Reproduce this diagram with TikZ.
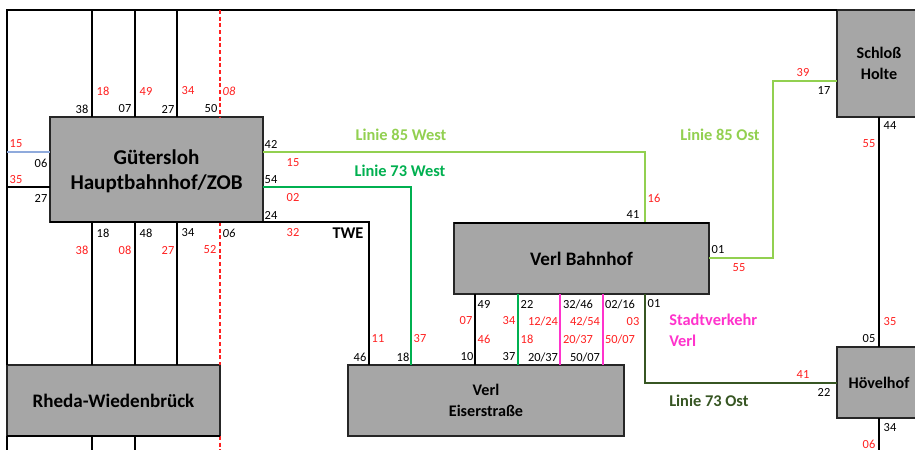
\documentclass[tikz,border=0pt]{standalone}
\usepackage{fontspec}
\usepackage{xcolor}
\setmainfont{Carlito}
\usetikzlibrary{positioning}

\definecolor{stationgrey}{HTML}{A6A6A6}
\definecolor{edgegrey}{HTML}{262626}
\definecolor{numred}{HTML}{FF2020}
\definecolor{lightgreen}{HTML}{92D050}
\definecolor{midgreen}{HTML}{00B050}
\definecolor{darkgreen}{HTML}{375623}
\definecolor{pinkline}{HTML}{FF33CC}
\definecolor{paleblue}{HTML}{8FAADC}

\begin{document}
\begin{tikzpicture}[
    x=0.75pt, y=-0.75pt,
    station/.style={draw=edgegrey, fill=stationgrey, line width=1pt, inner sep=0pt, outer sep=0pt,
                anchor=north west, align=center, text depth=0pt, font=\fontsize{12.1}{15.75}\selectfont\bfseries},
    bigstation/.style={station, font=\fontsize{14.3}{18.75}\selectfont\bfseries},
    num/.style={inner sep=0pt, font=\fontsize{9.3}{10}\selectfont},
    rednum/.style={num, text=numred},
    linename/.style={inner sep=0pt, align=left, font=\fontsize{12.3}{15.75}\selectfont\bfseries},
    plain/.style={draw=black, line width=0.9pt},
    heavy/.style={draw=black, line width=1.5pt},
    redline/.style={draw=numred, line width=1.1pt, dash pattern=on 3pt off 2pt},
    colline/.style={line width=1.3pt}
  ]
    \clip (0,0) rectangle (915,450);
    \fill[white] (0,0) rectangle (915,450);

    % stations
    \node[bigstation, minimum width=159.75pt, minimum height=78.75pt, font=\fontsize{15.8}{18.75}\selectfont\bfseries] (guet) at (50,117) {G\"utersloh \\ Hauptbahnhof/ZOB};
    \node[bigstation, minimum width=159.75pt, minimum height=53.25pt] (rheda) at (7,365) {Rheda-Wiedenbr\"uck};
    \node[bigstation, minimum width=191.25pt, minimum height=53.25pt, line width=1.3pt] (verl) at (454,223) {Verl Bahnhof};
    \node[station, minimum width=207pt, minimum height=53.25pt] (eiser) at (348,365) {Verl \\ Eiserstra\ss e};
    \node[station, minimum width=63pt, minimum height=80.25pt] (schloss) at (837,10) {Schlo\ss \\ Holte};
    \node[station, minimum width=63pt, minimum height=53.25pt, anchor=north, below=172.5pt of schloss] (hoevel) {H\"ovelhof};

    % helper points
    \coordinate (tl) at (7,10);
    \coordinate (bl) at (7,450);
    \coordinate (a) at (92,10);
    \coordinate (b) at (135,10);
    \coordinate (c) at (177,10);
    \coordinate (d) at (220,10);
    \coordinate (w1) at (7,152);
    \coordinate (w2) at (7,187);
    \coordinate (k85w) at (645,152);
    \coordinate (k73w) at (411,187);
    \coordinate (ktwe) at (369,222);
    \coordinate (k73o) at (645,383);
    \coordinate (k85a) at (773,258);
    \coordinate (k85b) at (773,81);
    \coordinate (s1) at (475,294);
    \coordinate (s2) at (518,294);
    \coordinate (s3) at (560,294);
    \coordinate (s4) at (603,294);

    % frame and lines to the west
    \draw[plain, line width=1.1pt] (bl) -- (rheda.south west);
    \draw[plain, line width=1.1pt] (rheda.north west) -- (tl) -- (schloss.north west);
    \draw[draw=paleblue, colline] (w1) -- (w1 -| guet.west);
    \draw[plain] (w2) -- (w2 -| guet.west);
    \draw[plain] (a) -- (guet.north -| a);
    \draw[plain] (b) -- (guet.north -| b);
    \draw[plain] (c) -- (guet.north -| c);
    \draw[redline] (d) -- (guet.north -| d);
    \draw[plain] (guet.south -| a) -- (rheda.north -| a);
    \draw[plain] (guet.south -| b) -- (rheda.north -| b);
    \draw[plain] (guet.south -| c) -- (rheda.north -| c);
    \draw[redline] (guet.south -| d) -- (rheda.north -| d);
    \draw[plain] (rheda.south -| a) -- (bl -| a);
    \draw[plain] (rheda.south -| b) -- (bl -| b);
    \draw[redline] (rheda.south -| d) -- (bl -| d);

    % lines between the stations
    \draw[draw=lightgreen, colline] (k85w -| guet.east) -- (k85w) -- (k85w |- verl.north);
    \draw[draw=midgreen, colline] (k73w -| guet.east) -- (k73w) -- (k73w |- eiser.north);
    \draw[heavy] (guet.south west) -- (guet.south east) -- (ktwe) -- (ktwe |- eiser.north);
    \draw[plain, line width=1.2pt] (s1) -- (s1 |- eiser.north);
    \draw[draw=midgreen, colline] (s2) -- (s2 |- eiser.north);
    \draw[draw=pinkline, colline] (s3) -- (s3 |- eiser.north);
    \draw[draw=pinkline, colline] (s4) -- (s4 |- eiser.north);
    \draw[draw=darkgreen, colline] (k73o |- verl.south) -- (k73o) -- (k73o -| hoevel.west);
    \draw[draw=lightgreen, colline] (k85a -| verl.east) -- (k85a) -- (k85b) -- (k85b -| schloss.west);
    \draw[plain] (schloss.south) -- (hoevel.north);
    \draw[plain] (hoevel.south) -- (hoevel.south |- bl);
    % heavier station edges
    \draw[heavy] (rheda.south west) -- (rheda.south east);
    \draw[heavy] (verl.north west) -- (verl.north east);

    % line names
    \node[linename, text=lightgreen] (n85w) at (401,135) {Linie 85 West};
    \node[linename, text=midgreen] (n73w) at (400,171) {Linie 73 West};
    \node[linename] (ntwe) at (348,233) {TWE};
    \node[linename, text=lightgreen] (n85o) at (720,135) {Linie 85 Ost};
    \node[linename, text=pinkline, anchor=west] (nstadt) at (669,330.5) {Stadtverkehr \\ Verl};
    \node[linename, text=darkgreen, anchor=west] (n73o) at (669,401) {Linie 73 Ost};

    % numbers above guetersloh
    \node[rednum] (t18) at (103,91) {18};
    \node[rednum] (t49) at (146,91) {49};
    \node[rednum] (t34) at (188,91) {34};
    \node[rednum, font=\fontsize{9.3}{10}\selectfont\itshape] (t08) at (229,91) {08};
    \node[num] (t38) at (82,109) {38};
    \node[num] (t07) at (125,109) {07};
    \node[num] (t27) at (168,109) {27};
    \node[num] (t50) at (211,109) {50};
    % numbers west of guetersloh
    \node[rednum] (w15) at (16,144) {15};
    \node[num] (w06) at (41,163) {06};
    \node[rednum] (w35) at (16,180) {35};
    \node[num] (w27) at (41,198) {27};
    % numbers east of guetersloh
    \node[num] (e42) at (271,144) {42};
    \node[rednum] (e15) at (293,163) {15};
    \node[num] (e54) at (271,180) {54};
    \node[rednum] (e02) at (293,198) {02};
    \node[num] (e24) at (271,215) {24};
    \node[rednum] (e32) at (293,233) {32};
    % numbers below guetersloh
    \node[num] (b18) at (103,233) {18};
    \node[num] (b48) at (146,233) {48};
    \node[num] (b34) at (188,233) {34};
    \node[num, font=\fontsize{9.3}{10}\selectfont\itshape] (b06) at (229,233) {06};
    \node[rednum] (b38) at (82,250) {38};
    \node[rednum] (b08) at (125,250) {08};
    \node[rednum] (b27) at (168,250) {27};
    \node[rednum] (b52) at (210,250) {52};
    % numbers above eiserstrasse
    \node[rednum] (r11) at (378,339) {11};
    \node[rednum] (r37) at (420,339) {37};
    \node[num] (r46) at (360,357) {46};
    \node[num] (r18) at (403,357) {18};
    \node[num] (r10) at (467,357) {10};
    \node[num] (r37b) at (509,357) {37};
    \node[num] (r2037) at (543,357) {20/37};
    \node[num] (r5007) at (585,357) {50/07};
    % numbers below verl bahnhof
    \node[num] (v49) at (484,304) {49};
    \node[num] (v22) at (527,304) {22};
    \node[num] (v3246) at (578,304) {32/46};
    \node[num] (v0216) at (620,304) {02/16};
    \node[num] (v01) at (654,304) {01};
    \node[rednum] (v07) at (466,321) {07};
    \node[rednum] (v34) at (509,321) {34};
    \node[rednum] (v1224) at (543,321) {12/24};
    \node[rednum] (v4254) at (585,321) {42/54};
    \node[rednum] (v03) at (633,322) {03};
    \node[rednum] (v46) at (484,339) {46};
    \node[rednum] (v18) at (527,339) {18};
    \node[rednum] (v2037) at (578,339) {20/37};
    \node[rednum] (v5007) at (620,339) {50/07};
    % numbers around verl bahnhof
    \node[num] (v41) at (633,215) {41};
    \node[rednum] (v16) at (654,198) {16};
    \node[num] (v01e) at (718,250) {01};
    \node[rednum] (v55) at (739,268) {55};
    % numbers in the east
    \node[rednum] (s39) at (803,73) {39};
    \node[num] (s17) at (824,91) {17};
    \node[num] (s44) at (890,126) {44};
    \node[rednum] (s55) at (869,144) {55};
    \node[rednum] (h35) at (890,322) {35};
    \node[num] (h05) at (869,339) {05};
    \node[rednum] (h41) at (803,375) {41};
    \node[num] (h22) at (824,392) {22};
    \node[num] (h34) at (890,428) {34};
    \node[rednum] (h06) at (869,444.5) {06};
  \end{tikzpicture}
\end{document}
